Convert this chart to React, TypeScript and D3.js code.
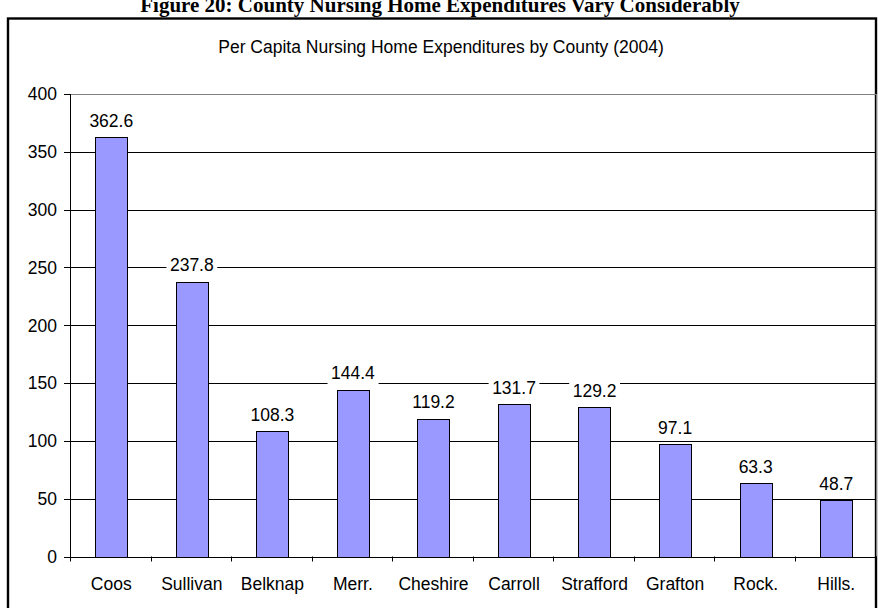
import React, { useEffect, useRef } from "react";
import * as d3 from "d3";

const categories = ["Coos", "Sullivan", "Belknap", "Merr.", "Cheshire", "Carroll", "Strafford", "Grafton", "Rock.", "Hills."];
const values = [362.6, 237.8, 108.3, 144.4, 119.2, 131.7, 129.2, 97.1, 63.3, 48.7];
const yTicks = [0, 50, 100, 150, 200, 250, 300, 350, 400];
const figureTitle = "Figure 20: County Nursing Home Expenditures Vary Considerably";
const chartTitle = "Per Capita Nursing Home Expenditures by County (2004)";

const W = 878;
const H = 608;
const FONT = "Arial, 'Liberation Sans', sans-serif";

export default function App() {
  const ref = useRef<SVGSVGElement>(null);

  useEffect(() => {
    const svg = d3.select(ref.current);
    svg.selectAll("*").remove();

    const left = 71;
    const right = 876.5;
    const top = 94;
    const bottom = 556.5;

    const x = d3.scaleBand<string>().domain(categories).range([left, right]).padding(0);
    const y = d3.scaleLinear().domain([0, 400]).range([bottom, top]);
    const bw = x.bandwidth();

    svg.append("rect").attr("x", 0).attr("y", 0).attr("width", W).attr("height", H).attr("fill", "#fff");

    // figure title (clipped at top)
    svg.append("text")
      .attr("x", 440).attr("y", 11.5)
      .attr("text-anchor", "middle")
      .attr("font-family", "'Times New Roman', 'Liberation Serif', serif")
      .attr("font-weight", "bold")
      .attr("font-size", 21)
      .text(figureTitle);

    // outer frame
    svg.append("rect")
      .attr("x", 8).attr("y", 18.5).attr("width", 868).attr("height", 700)
      .attr("fill", "none").attr("stroke", "#000").attr("stroke-width", 2.4);

    // chart title
    svg.append("text")
      .attr("x", 441).attr("y", 53)
      .attr("text-anchor", "middle")
      .attr("font-family", FONT).attr("font-size", 17.5)
      .attr("fill", "#000")
      .text(chartTitle);

    // gridlines
    const g = svg.append("g");
    g.selectAll("line.grid")
      .data(yTicks.filter((t) => t !== 0))
      .join("line")
      .attr("class", "grid")
      .attr("x1", left).attr("x2", right)
      .attr("y1", (d) => Math.round(y(d)) + 0.5)
      .attr("y2", (d) => Math.round(y(d)) + 0.5)
      .attr("stroke", (d) => (d === 400 ? "#808080" : "#000"))
      .attr("stroke-width", 1);

    // plot right border
    g.append("line")
      .attr("x1", Math.round(right) - 0.5).attr("x2", Math.round(right) - 0.5)
      .attr("y1", top).attr("y2", bottom)
      .attr("stroke", "#808080");

    // bars
    g.selectAll("rect.bar")
      .data(values)
      .join("rect")
      .attr("class", "bar")
      .attr("x", (d, i) => Math.round(x(categories[i])! + bw * 0.3) + 0.5)
      .attr("width", Math.round(bw * 0.4))
      .attr("y", (d) => Math.round(y(d)) + 0.5)
      .attr("height", (d) => Math.round(bottom) - Math.round(y(d)))
      .attr("fill", "#9999FF")
      .attr("stroke", "#000")
      .attr("stroke-width", 1);

    // y axis
    g.append("line")
      .attr("x1", left - 0.5).attr("x2", left - 0.5)
      .attr("y1", top).attr("y2", bottom + 0.5)
      .attr("stroke", "#000");
    g.selectAll("line.ytick")
      .data(yTicks)
      .join("line")
      .attr("class", "ytick")
      .attr("x1", left - 7).attr("x2", left)
      .attr("y1", (d) => Math.round(y(d)) + 0.5)
      .attr("y2", (d) => Math.round(y(d)) + 0.5)
      .attr("stroke", "#000");
    g.selectAll("text.ylab")
      .data(yTicks)
      .join("text")
      .attr("class", "ylab")
      .attr("x", 57)
      .attr("y", (d) => y(d))
      .attr("dy", "0.36em")
      .attr("text-anchor", "end")
      .attr("font-family", FONT).attr("font-size", 17.5)
      .text((d) => String(d));

    // x axis
    g.append("line")
      .attr("x1", left - 0.5).attr("x2", right)
      .attr("y1", Math.round(bottom) + 0.5).attr("y2", Math.round(bottom) + 0.5)
      .attr("stroke", "#000");
    const boundaries = categories.map((c) => x(c)!).concat([right]);
    g.selectAll("line.xtick")
      .data(boundaries)
      .join("line")
      .attr("class", "xtick")
      .attr("x1", (d) => Math.round(d) - 0.5)
      .attr("x2", (d) => Math.round(d) - 0.5)
      .attr("y1", bottom).attr("y2", bottom + 5)
      .attr("stroke", "#000");
    g.selectAll("text.xlab")
      .data(categories)
      .join("text")
      .attr("class", "xlab")
      .attr("x", (d) => x(d)! + bw / 2)
      .attr("y", 590)
      .attr("text-anchor", "middle")
      .attr("font-family", FONT).attr("font-size", 17.5)
      .text((d) => d);

    // value labels with white background
    const lg = g.append("g");
    values.forEach((v, i) => {
      const cx = x(categories[i])! + bw / 2;
      const by = y(v) - 10.5;
      const bg = lg.append("rect").attr("fill", "#fff");
      const t = lg.append("text")
        .attr("x", cx).attr("y", by)
        .attr("text-anchor", "middle")
        .attr("font-family", FONT).attr("font-size", 17.5)
        .text(v.toFixed(1));
      const bb = (t.node() as SVGTextElement).getBBox();
      bg.attr("x", bb.x - 3.5).attr("y", bb.y - 1).attr("width", bb.width + 7).attr("height", bb.height + 2);
    });
  }, []);

  return (
    <svg
      ref={ref}
      width={W}
      height={H}
      style={{ position: "absolute", left: 0, top: 0, display: "block" }}
    />
  );
}
